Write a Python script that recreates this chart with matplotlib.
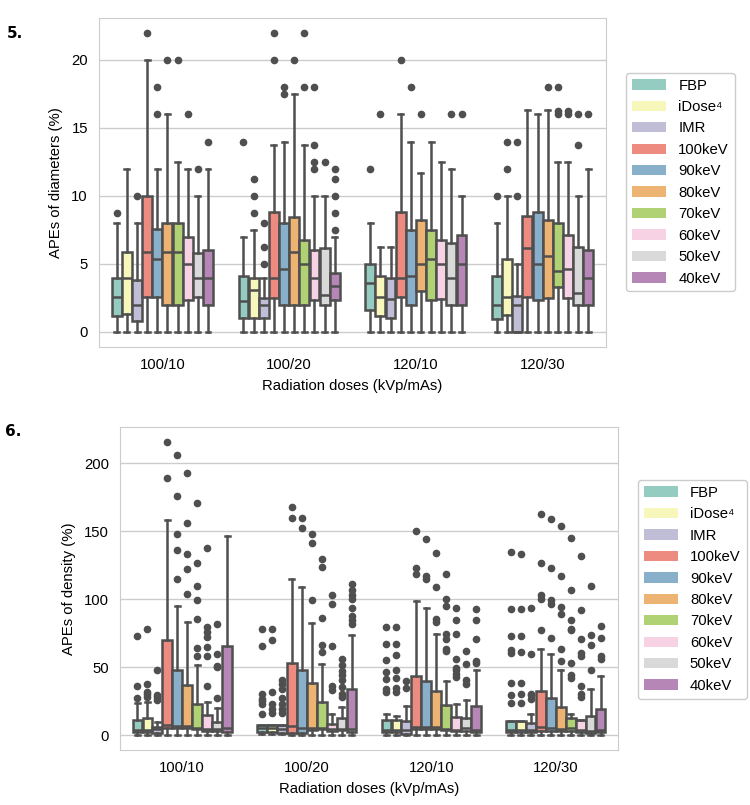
import matplotlib
matplotlib.use('Agg')
import matplotlib.pyplot as plt
from matplotlib.patches import Patch
import seaborn as sns
import numpy as np

plt.rcParams['font.family'] = ['Liberation Sans', 'DejaVu Sans']

doses = ['100/10', '100/20', '120/10', '120/30']
methods = ['FBP', 'iDose\u2074', 'IMR', '100keV', '90keV', '80keV',
           '70keV', '60keV', '50keV', '40keV']

# ---- Figure 5: APEs of diameters (rows = dose, cols = method) ----
diam_q1 = [[1.2, 1.3, 0.8, 2.6, 2.6, 1.95, 1.95, 2.35, 2.6, 2.0],
           [1.0, 1.0, 1.0, 2.5, 1.95, 2.0, 2.0, 2.35, 2.0, 2.35],
           [1.65, 1.2, 1.0, 2.55, 2.0, 3.0, 2.35, 2.45, 2.0, 2.0],
           [0.95, 1.25, 0.0, 2.55, 2.35, 2.5, 3.3, 2.5, 1.95, 2.0]]
diam_med = [[2.6, 4.0, 2.0, 5.9, 5.4, 5.9, 5.9, 5.0, 4.0, 4.0],
            [2.25, 3.1, 2.0, 4.0, 4.65, 5.9, 5.0, 4.0, 2.7, 3.35],
            [3.6, 2.55, 2.45, 4.0, 4.15, 5.0, 5.4, 5.0, 4.0, 5.0],
            [2.0, 2.55, 2.0, 6.2, 5.0, 5.55, 4.5, 4.65, 2.9, 4.0]]
diam_q3 = [[4.0, 5.9, 3.8, 10.0, 7.6, 8.0, 8.0, 7.0, 5.8, 6.0],
           [4.15, 4.0, 2.5, 8.8, 8.0, 8.45, 6.75, 6.05, 6.2, 4.35],
           [5.0, 4.15, 3.95, 8.85, 7.5, 8.2, 7.5, 6.75, 6.55, 7.15],
           [4.15, 5.4, 2.65, 8.5, 8.8, 8.25, 8.0, 7.1, 6.25, 6.05]]
diam_lo = [[0.0] * 10, [0.0] * 10, [0.0] * 10, [0.0] * 10]
diam_hi = [[8.0, 12.0, 8.0, 20.0, 12.0, 16.0, 12.5, 12.0, 10.0, 12.0],
           [7.0, 7.5, 4.0, 13.75, 14.0, 17.5, 13.75, 10.0, 10.0, 7.0],
           [8.0, 6.25, 6.25, 16.0, 14.0, 11.65, 14.0, 12.5, 12.0, 10.0],
           [8.0, 10.0, 5.0, 16.35, 16.0, 16.35, 12.5, 12.5, 10.0, 12.0]]
diam_fliers = [
    [[8.75], [], [10], [22], [16, 18], [20], [20], [16], [12], [14]],
    [[14], [8.75, 10, 11.25], [5, 6.25, 8], [20, 22], [17.5, 18], [20],
     [18, 22], [12, 12.5, 13.75, 18], [12.5], [7.5, 8.75, 10, 11.25, 12]],
    [[12], [16], [], [20], [18], [16], [], [], [16], [16]],
    [[10], [12, 14], [10, 14], [], [], [18], [16, 16.25, 18], [16, 16.25],
     [13.75, 16], [16]],
]

# ---- Figure 6: APEs of density ----
dens_q1 = [[2.4, 2.4, 2.0, 5.6, 5.6, 5.6, 4.4, 3.2, 3.2, 2.4],
           [2.4, 2.4, 2.0, 2.0, 2.0, 3.7, 4.4, 3.2, 3.7, 2.4],
           [2.4, 2.4, 1.2, 4.4, 4.4, 4.4, 3.7, 3.2, 3.2, 2.4],
           [2.4, 2.4, 2.4, 3.2, 3.2, 3.2, 3.2, 2.4, 2.0, 2.4]]
dens_med = [[3.7, 3.7, 4.4, 7.3, 7.0, 6.8, 5.4, 4.4, 4.4, 5.4],
            [5.4, 5.6, 4.4, 6.9, 5.4, 5.4, 5.4, 4.4, 4.4, 4.4],
            [3.7, 3.7, 3.7, 6.1, 6.1, 6.1, 4.4, 3.7, 5.4, 3.7],
            [3.7, 3.7, 3.7, 6.1, 5.4, 4.4, 5.4, 3.7, 3.2, 3.7]]
dens_q3 = [[11, 13, 6, 70, 48, 37, 23.3, 15, 9.5, 65.4],
           [7.3, 7.3, 7.3, 53.4, 47.7, 38.7, 24.5, 8.6, 13, 34.3],
           [11, 11, 10.3, 43.6, 39.7, 32.3, 22, 13.5, 13, 21.3],
           [10.3, 10.3, 9, 32.3, 27.4, 20.8, 13, 11.5, 14.2, 19.6]]
dens_lo = [[0.4] * 10, [1.0, 1.0, 1.0, 0.4, 0.4, 0.4, 0.4, 0.0, 0.0, 0.0],
           [0.4] * 10, [0.4, 0.4, 0.4, 0.4, 0.4, 0.4, 0.4, 0.4, 0.0, 0.0]]
dens_hi = [[23.7, 24.5, 9.5, 158, 94.7, 83, 51.4, 24.7, 20, 146.6],
           [7.3, 7.3, 7.3, 115, 109, 82.7, 52.6, 15.4, 20.8, 74],
           [15.4, 14, 21.3, 98.7, 93.8, 74.2, 40, 22.8, 26.2, 47.7],
           [10.3, 10.3, 16, 63.6, 60, 48.2, 16, 11.5, 34.3, 43.6]]
dens_fliers = [
    [[27.7, 36, 72.7], [28, 30, 32, 38, 78], [26, 28, 29.5, 47.7], [189, 215.7],
     [115, 136, 148, 175.8, 205.6], [104, 122, 133, 156, 193],
     [58, 64.4, 85.7, 99.6, 109.7, 126.6, 171],
     [36, 58.5, 64.6, 72.2, 75.9, 79.3, 137.8], [27.7, 50, 51, 59.5, 82], []],
    [[16, 23, 25, 27, 30, 65.6, 77.8], [16.4, 19.6, 23, 31.8, 69.8, 77.8],
     [16.4, 19.6, 23, 27.7, 34, 38, 40.4], [159.6, 167.4], [152.5, 159.6],
     [99.6, 141.5, 147.6], [61.2, 66, 86.4, 123.6, 129.7],
     [33, 36.5, 65.6, 96.7, 103.3],
     [28, 30.6, 35.5, 40.4, 44, 47.2, 51.4, 55.8],
     [81.5, 84.5, 87.9, 93.8, 100.4, 103.3, 106.5, 111.4]],
    [[31.8, 34.3, 41.6, 46.5, 55, 66.8, 79.6],
     [31.8, 35, 42.3, 47.7, 58.8, 66.8, 79.6], [35, 40], [118.7, 123.1, 150],
     [115, 117, 144], [83.2, 85.7, 109, 134],
     [62, 63.6, 71, 74.2, 94.7, 100.4, 118.2],
     [42.8, 45.3, 47.7, 49.7, 55.8, 74.7, 84.5, 93.8], [38, 40.4, 52.6, 62],
     [53, 54.3, 70.5, 84.5, 92.5]],
    [[23.7, 29.9, 38.7, 60.5, 62.4, 72.7, 93, 134.6],
     [23.7, 30.6, 38.7, 61.2, 72.7, 93, 133], [27, 29.4, 30.6, 60, 93.8],
     [77, 100.4, 102.8, 126.6, 162.8], [71.7, 96.7, 99.1, 122.9, 158.6],
     [54.3, 63.6, 89.4, 94.2, 117, 153.7],
     [42.3, 44, 53, 77, 78.3, 85, 107, 145],
     [28, 30.6, 36, 58, 60.5, 71, 91.8, 131.7], [47.7, 66, 74, 110],
     [56.3, 58, 71.7, 80.3]],
]

colors = sns.color_palette('Set3', 10, desat=0.8)
gray = '#4f4f4f'
FS = 10.7
LW = 1.8


def draw_panel(ax, q1, med, q3, lo, hi, fliers, ylabel, ticks):
    n = len(methods)
    w = 0.8 / n
    stats, pos, cols = [], [], []
    for g in range(len(doses)):
        for m in range(n):
            stats.append(dict(q1=q1[g][m], med=med[g][m], q3=q3[g][m],
                              whislo=lo[g][m], whishi=hi[g][m],
                              fliers=np.array(fliers[g][m])))
            pos.append(g - 0.4 + w * (m + 0.5))
            cols.append(colors[m])
    art = ax.bxp(stats, positions=pos, widths=w * 0.98, patch_artist=True,
                 manage_ticks=False,
                 boxprops=dict(edgecolor=gray, linewidth=LW),
                 medianprops=dict(color=gray, linewidth=LW),
                 whiskerprops=dict(color=gray, linewidth=LW),
                 capprops=dict(color=gray, linewidth=LW),
                 flierprops=dict(marker='o', markersize=4.5, markerfacecolor=gray,
                                 markeredgecolor=gray, linestyle='none'))
    for box, c in zip(art['boxes'], cols):
        box.set_facecolor(c)
    ax.set_xlim(-0.5, len(doses) - 0.5)
    ax.set_xticks(range(len(doses)))
    ax.set_xticklabels(doses)
    ax.set_yticks(ticks)
    ax.tick_params(length=0, labelsize=FS, pad=8)
    ax.grid(axis='y', color='#cccccc', linewidth=1)
    ax.set_axisbelow(True)
    for s in ax.spines.values():
        s.set_color('#cccccc')
    ax.set_xlabel('Radiation doses (kVp/mAs)', fontsize=FS, labelpad=5)
    ax.set_ylabel(ylabel, fontsize=FS, labelpad=6)
    return [Patch(facecolor=c, edgecolor='none') for c in colors]


def add_legend(ax, handles, y):
    ax.legend(handles, methods, loc='upper left', bbox_to_anchor=(1.04, y),
              borderaxespad=0, fontsize=FS, edgecolor='#cccccc', framealpha=1,
              handlelength=2.3, handletextpad=0.8, labelspacing=0.5)


fig = plt.figure(figsize=(7.5, 8.05), dpi=100)
ax1 = fig.add_axes([0.132, 0.569, 0.676, 0.409])
ax2 = fig.add_axes([0.16, 0.0683, 0.664, 0.4013])

h = draw_panel(ax1, diam_q1, diam_med, diam_q3, diam_lo, diam_hi, diam_fliers,
               'APEs of diameters (%)', [0, 5, 10, 15, 20])
ax1.set_ylim(-1.1, 23.1)
add_legend(ax1, h, 0.833)

h = draw_panel(ax2, dens_q1, dens_med, dens_q3, dens_lo, dens_hi, dens_fliers,
               'APEs of density (%)', [0, 50, 100, 150, 200])
ax2.set_ylim(-10.8, 226.5)
add_legend(ax2, h, 0.836)

fig.text(0.009, 1 - 26 / 805, '5.', fontsize=11, fontweight='bold',
         family='DejaVu Sans', va='top')
fig.text(0.007, 1 - 424 / 805, '6.', fontsize=11, fontweight='bold',
         family='DejaVu Sans', va='top')

fig.savefig('out.png', dpi=100)
